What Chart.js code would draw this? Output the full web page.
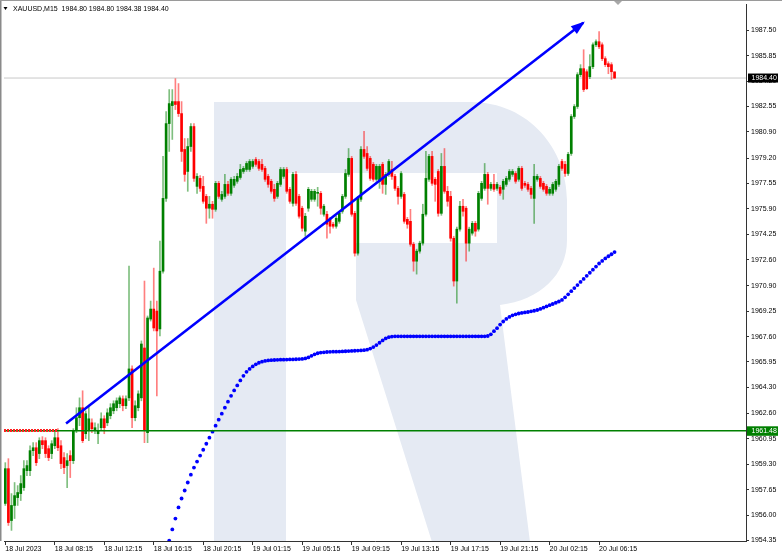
<!DOCTYPE html>
<html><head><meta charset="utf-8">
<script src="https://cdn.jsdelivr.net/npm/chart.js@4/dist/chart.umd.min.js"></script>
<style>html,body{margin:0;padding:0;background:#fff;overflow:hidden}#wrap{width:782px;height:558px;position:relative}canvas{display:block}</style>
</head><body><div id="wrap"><canvas id="c" width="782" height="558" style="width:782px;height:558px"></canvas></div>
<script>
// ---- data ----
const titleText = "XAUUSD,M15  1984.80 1984.80 1984.38 1984.40";
const xTickBars = [0,16,32,48,64,80,96,112,128,144,160,176,192];
const xTickLabels = ["18 Jul 2023","18 Jul 08:15","18 Jul 12:15","18 Jul 16:15","18 Jul 20:15","19 Jul 01:15","19 Jul 05:15","19 Jul 09:15","19 Jul 13:15","19 Jul 17:15","19 Jul 21:15","20 Jul 02:15","20 Jul 06:15"];
const yTicks = [1987.50,1985.85,1984.20,1982.55,1980.90,1979.20,1977.55,1975.90,1974.25,1972.60,1970.90,1969.25,1967.60,1965.95,1964.30,1962.60,1960.95,1959.30,1957.65,1956.00,1954.35];

const opens = [1956.76,1959.02,1955.65,1956.63,1957.14,1957.40,1957.79,1958.89,1958.89,1960.19,1960.38,1960.00,1960.84,1960.84,1960.32,1960.00,1960.51,1961.03,1960.51,1959.74,1959.22,1959.87,1959.54,1961.49,1962.33,1962.98,1961.29,1961.49,1962.00,1961.49,1961.29,1961.68,1962.26,1962.00,1962.46,1962.78,1962.98,1963.24,1963.56,1963.11,1963.62,1965.50,1962.33,1962.98,1963.62,1966.86,1961.36,1968.74,1969.39,1969.26,1968.10,1971.85,1976.58,1981.44,1982.61,1982.87,1982.87,1982.09,1979.76,1978.33,1979.95,1981.25,1977.36,1977.88,1977.36,1976.71,1975.94,1976.20,1975.87,1977.56,1976.52,1976.71,1977.49,1976.91,1977.43,1977.69,1977.94,1978.33,1978.46,1978.46,1978.66,1979.11,1978.98,1978.79,1978.53,1978.01,1977.69,1977.17,1976.71,1977.49,1978.01,1978.46,1977.17,1976.26,1978.14,1976.71,1975.94,1974.45,1975.94,1976.52,1976.52,1976.91,1976.91,1975.55,1975.55,1975.22,1974.90,1974.77,1975.09,1975.74,1976.71,1978.14,1979.18,1975.61,1973.02,1976.52,1979.76,1979.50,1979.18,1978.79,1977.82,1977.69,1978.79,1977.49,1978.14,1978.46,1978.01,1977.23,1976.71,1976.84,1975.22,1975.09,1973.60,1972.50,1973.15,1973.67,1975.55,1977.82,1979.31,1977.82,1978.33,1975.61,1978.66,1977.04,1976.71,1973.99,1971.21,1974.58,1976.07,1975.94,1973.67,1974.32,1974.96,1974.58,1976.58,1977.23,1978.14,1977.23,1977.49,1977.23,1977.30,1977.17,1977.49,1977.82,1978.14,1978.20,1977.82,1978.53,1977.56,1977.49,1977.23,1976.58,1977.82,1977.88,1977.56,1977.36,1976.91,1976.91,1977.17,1977.49,1978.98,1978.79,1978.20,1979.50,1981.90,1982.55,1984.62,1985.01,1984.81,1984.49,1985.14,1986.56,1986.76,1986.56,1985.66,1985.33,1985.27,1984.80];
const highs = [1959.41,1959.67,1957.40,1958.12,1957.92,1958.57,1959.54,1959.54,1960.51,1960.71,1960.71,1961.03,1961.10,1961.03,1960.51,1960.84,1961.49,1961.62,1960.84,1960.06,1960.00,1960.19,1961.62,1962.98,1963.62,1964.08,1962.78,1963.11,1962.26,1962.00,1961.94,1962.65,1962.46,1962.91,1963.24,1963.43,1963.62,1963.75,1963.75,1963.75,1972.18,1965.70,1963.43,1964.08,1967.32,1971.21,1968.94,1969.91,1972.05,1969.91,1973.80,1979.31,1982.22,1983.65,1983.65,1984.36,1984.04,1982.87,1980.47,1980.47,1981.44,1981.44,1978.20,1978.07,1978.01,1976.84,1976.71,1976.39,1977.69,1977.69,1977.04,1978.14,1977.69,1977.94,1978.01,1978.20,1978.79,1978.66,1978.98,1979.11,1979.11,1979.24,1979.11,1979.11,1978.66,1978.14,1977.82,1977.49,1977.69,1978.59,1978.59,1978.59,1977.30,1978.27,1978.33,1976.84,1976.07,1975.61,1977.30,1977.17,1977.17,1977.30,1977.04,1976.20,1975.74,1975.35,1975.03,1975.42,1975.74,1976.84,1978.46,1979.82,1979.31,1975.74,1976.71,1979.95,1980.93,1979.95,1979.31,1978.92,1978.79,1978.79,1978.92,1978.27,1979.11,1978.98,1978.14,1977.36,1978.33,1976.97,1975.35,1975.87,1973.73,1973.28,1973.80,1976.20,1979.63,1979.44,1979.63,1977.94,1978.46,1979.50,1979.82,1977.36,1977.04,1974.12,1974.71,1976.39,1976.52,1976.07,1974.71,1975.09,1975.09,1977.04,1977.69,1978.85,1978.27,1977.62,1978.14,1977.62,1977.43,1977.82,1978.01,1978.46,1978.46,1978.33,1978.66,1978.66,1977.69,1977.62,1977.36,1978.79,1978.14,1978.01,1977.69,1977.49,1977.30,1977.62,1977.82,1978.79,1979.11,1978.98,1979.57,1982.03,1982.68,1984.75,1985.27,1986.24,1984.94,1985.92,1986.69,1986.89,1987.41,1986.69,1985.79,1985.46,1985.40,1984.80];
const lows = [1956.63,1955.33,1955.01,1955.78,1956.63,1956.95,1957.60,1958.57,1958.57,1959.87,1959.22,1959.67,1960.32,1959.74,1959.54,1959.67,1960.32,1960.19,1959.02,1958.70,1957.79,1958.44,1959.35,1961.36,1961.81,1960.71,1960.97,1960.84,1961.36,1961.29,1960.64,1961.49,1961.29,1961.81,1962.26,1962.59,1962.78,1962.98,1962.78,1962.91,1963.43,1961.68,1962.13,1962.78,1963.43,1960.71,1960.71,1968.61,1967.97,1963.75,1967.64,1971.72,1976.39,1979.63,1980.41,1982.35,1981.90,1978.98,1977.69,1977.04,1979.63,1977.69,1976.91,1977.04,1976.26,1974.96,1975.29,1975.29,1975.74,1976.58,1976.39,1976.58,1976.78,1976.78,1977.30,1977.56,1977.82,1978.20,1978.33,1978.33,1978.53,1978.66,1978.40,1978.33,1977.69,1977.30,1976.91,1976.39,1976.58,1977.36,1977.88,1976.91,1976.26,1976.07,1976.13,1975.29,1974.45,1974.12,1975.74,1976.39,1976.39,1976.07,1975.55,1975.42,1973.99,1974.32,1974.64,1974.64,1974.96,1975.61,1976.58,1978.01,1975.42,1972.83,1972.89,1976.39,1979.18,1978.40,1977.75,1977.69,1977.69,1977.23,1976.91,1976.84,1978.01,1977.82,1977.10,1976.20,1976.58,1974.96,1974.64,1973.47,1971.85,1971.66,1973.02,1973.54,1975.42,1977.69,1977.43,1976.39,1975.42,1975.48,1976.91,1976.07,1973.80,1970.88,1969.78,1974.45,1975.42,1972.50,1973.15,1974.19,1974.12,1974.45,1976.45,1977.10,1976.20,1977.10,1977.04,1977.10,1976.78,1976.52,1977.36,1977.69,1978.01,1977.56,1977.69,1977.10,1977.30,1977.04,1976.58,1974.96,1977.69,1977.23,1977.04,1976.78,1976.78,1976.78,1977.04,1977.36,1978.40,1978.01,1978.07,1979.37,1981.77,1982.42,1984.49,1983.52,1983.65,1984.36,1985.01,1986.43,1986.30,1985.53,1985.14,1984.68,1984.30,1984.38];
const closes = [1959.02,1955.52,1956.63,1957.27,1957.47,1958.05,1959.02,1959.22,1960.19,1960.38,1959.41,1960.84,1960.58,1960.00,1959.74,1960.64,1961.03,1960.38,1959.35,1959.09,1959.54,1959.54,1961.49,1962.33,1962.98,1960.84,1962.59,1962.26,1961.62,1961.68,1961.49,1962.26,1961.68,1962.65,1962.98,1963.24,1963.43,1963.62,1963.11,1963.56,1965.50,1962.33,1963.11,1963.88,1967.12,1961.49,1968.81,1969.39,1968.16,1967.97,1971.85,1976.58,1981.44,1982.74,1982.87,1982.68,1982.09,1979.63,1978.14,1979.95,1981.25,1977.88,1978.01,1977.23,1976.39,1975.94,1976.20,1975.87,1977.56,1976.71,1976.84,1977.49,1976.91,1977.82,1977.82,1978.01,1978.46,1978.53,1978.85,1978.98,1978.98,1978.79,1978.53,1978.46,1977.82,1977.49,1977.04,1976.58,1977.56,1978.46,1978.46,1977.04,1976.39,1978.14,1976.26,1975.42,1974.64,1975.42,1977.17,1977.04,1977.04,1976.91,1975.94,1976.07,1974.90,1974.77,1974.77,1975.29,1975.61,1976.71,1978.20,1979.18,1975.55,1973.02,1976.58,1979.76,1979.31,1978.53,1977.88,1977.82,1978.66,1978.66,1977.49,1978.14,1978.98,1978.01,1977.23,1976.71,1978.20,1975.09,1974.90,1973.60,1972.50,1973.15,1973.67,1975.55,1977.88,1979.31,1977.56,1977.49,1975.61,1978.66,1977.04,1976.39,1973.99,1971.21,1974.58,1976.07,1975.74,1973.67,1974.58,1974.96,1974.45,1976.91,1977.56,1978.14,1977.23,1977.49,1977.17,1977.49,1976.91,1977.69,1977.88,1978.33,1978.33,1977.69,1978.53,1977.23,1977.43,1977.17,1976.84,1978.01,1978.01,1977.36,1977.17,1976.91,1977.17,1977.49,1977.69,1978.66,1978.53,1978.20,1979.44,1981.90,1982.55,1984.62,1985.01,1983.65,1983.71,1985.14,1986.56,1986.76,1986.43,1985.66,1985.27,1985.14,1984.81,1984.40];

const maStart = 53;
const maValues = [1954.35,1955.07,1955.78,1956.50,1957.08,1957.60,1958.12,1958.63,1959.09,1959.48,1959.87,1960.25,1960.64,1961.03,1961.42,1961.81,1962.20,1962.59,1962.98,1963.37,1963.75,1964.10,1964.43,1964.75,1965.05,1965.31,1965.50,1965.66,1965.80,1965.90,1965.97,1966.02,1966.05,
1966.07,1966.08,1966.09,1966.10,1966.10,1966.11,1966.12,1966.12,1966.13,1966.14,1966.15,1966.18,1966.25,1966.35,
1966.45,1966.52,1966.56,1966.58,1966.60,1966.61,1966.62,1966.62,1966.63,1966.64,1966.65,1966.66,1966.67,1966.68,1966.69,1966.70,1966.72,1966.75,
1966.82,1966.92,1967.05,1967.20,1967.35,1967.48,1967.56,1967.60,
1967.62,1967.62,1967.62,1967.62,1967.62,1967.62,1967.62,1967.62,1967.62,1967.62,1967.62,1967.62,1967.62,1967.62,1967.62,1967.62,1967.62,1967.62,1967.62,1967.62,1967.62,1967.62,1967.62,1967.62,1967.62,1967.62,1967.62,1967.62,1967.62,1967.62,1967.64,
1967.75,1967.95,1968.15,1968.38,1968.58,1968.75,1968.88,
1968.98,1969.05,1969.10,1969.14,1969.17,1969.20,1969.24,1969.28,1969.33,
1969.40,1969.48,1969.56,1969.64,1969.72,1969.80,1969.88,1969.98,
1970.15,1970.35,1970.55,1970.75,1970.95,1971.15,1971.35,1971.55,1971.75,1971.95,1972.15,1972.35,1972.52,1972.68,1972.82,1972.95,1973.09];

const trendX = [19.65, 186.9];
const trendY = [1961.96, 1987.99];
const supportLevel = 1961.48;
const bidLevel = 1984.40;
const redSegX = [-0.42, 17];
const redSegY = 1961.50;

// ---- build ----
const N = opens.length;
const up = opens.map((o,i)=>closes[i] >= o);
const wickData = opens.map((o,i)=>({x:i, y:[lows[i], highs[i]]}));
const bodyData = opens.map((o,i)=>({x:i, y:[o, closes[i]]}));
const maData = maValues.map((v,k)=>({x:maStart+k, y:v}));
const X_MIN = -0.42, X_MAX = 239.5;
const Y_MIN = 1954.32, Y_MAX = 1989.21;
const FONT = {family:"'Liberation Sans', Arial, sans-serif", size:7};

const bgPlugin = {
  id:'bg',
  beforeDatasetsDraw(chart){
    const ctx = chart.ctx; const a = chart.chartArea;
    ctx.save();
    ctx.beginPath(); ctx.rect(a.left,a.top,a.right-a.left,a.bottom-a.top); ctx.clip();
    ctx.fillStyle = '#e5eaf3';
    ctx.fillRect(214,102,72,440);
    ctx.beginPath();
    ctx.moveTo(286,102);
    ctx.lineTo(470,102);
    ctx.bezierCurveTo(530,102,567,150,567,200);
    ctx.lineTo(567,240);
    ctx.bezierCurveTo(567,275,540,300,500,305);
    ctx.lineTo(530,542);
    ctx.lineTo(432,542);
    ctx.lineTo(356,300);
    ctx.lineTo(356,243);
    ctx.lineTo(497,243);
    ctx.lineTo(497,173);
    ctx.lineTo(286,173);
    ctx.closePath();
    ctx.fill();
    ctx.restore();
  },
  afterDatasetsDraw(chart){
    const ctx = chart.ctx; const xs = chart.scales.x, ys = chart.scales.y;
    const x1 = xs.getPixelForValue(trendX[0]), y1 = ys.getPixelForValue(trendY[0]);
    const x2 = xs.getPixelForValue(trendX[1]), y2 = ys.getPixelForValue(trendY[1]);
    const ang = Math.atan2(y2-y1, x2-x1);
    ctx.save();
    ctx.fillStyle = '#0000ff';
    ctx.beginPath();
    ctx.moveTo(x2 + Math.cos(ang)*2, y2 + Math.sin(ang)*2);
    ctx.lineTo(x2 - Math.cos(ang)*12 + Math.sin(ang)*5, y2 - Math.sin(ang)*12 - Math.cos(ang)*5);
    ctx.lineTo(x2 - Math.cos(ang)*12 - Math.sin(ang)*5, y2 - Math.sin(ang)*12 + Math.cos(ang)*5);
    ctx.closePath(); ctx.fill();
    ctx.restore();
  },
  afterDraw(chart){
    const ctx = chart.ctx; const a = chart.chartArea; const ys = chart.scales.y;
    ctx.save();
    ctx.strokeStyle = '#8a8a8a'; ctx.lineWidth = 1.5;
    ctx.beginPath(); ctx.moveTo(0.75,0); ctx.lineTo(0.75,a.bottom); ctx.stroke();
    ctx.strokeStyle = '#9a9a9a'; ctx.lineWidth = 1;
    ctx.beginPath(); ctx.moveTo(0,0.5); ctx.lineTo(782,0.5); ctx.stroke();
    ctx.fillStyle = '#a8a8a8';
    ctx.beginPath(); ctx.moveTo(614,1); ctx.lineTo(622,1); ctx.lineTo(618,5); ctx.closePath(); ctx.fill();
    ctx.font = "7px 'Liberation Sans', Arial, sans-serif";
    ctx.textBaseline = 'middle'; ctx.textAlign = 'left';
    const yb = ys.getPixelForValue(bidLevel);
    ctx.fillStyle = '#000'; ctx.fillRect(748, yb-4.5, 30, 9);
    ctx.fillStyle = '#fff'; ctx.fillText(bidLevel.toFixed(2), 751.5, yb);
    const yg = ys.getPixelForValue(supportLevel);
    ctx.fillStyle = '#008000'; ctx.fillRect(747, yg-4.5, 31, 9.5);
    ctx.fillStyle = '#fff'; ctx.fillText(supportLevel.toFixed(2), 751.5, yg);
    ctx.fillStyle = '#000';
    ctx.beginPath(); ctx.moveTo(3.5,7); ctx.lineTo(7.5,7); ctx.lineTo(5.5,10); ctx.closePath(); ctx.fill();
    ctx.fillText(titleText, 13, 9);
    ctx.restore();
  }
};

new Chart(document.getElementById('c'), {
  type:'bar',
  data:{datasets:[
    {type:'line', data:[{x:X_MIN,y:bidLevel},{x:X_MAX,y:bidLevel}], borderColor:'#c8c8c8', borderWidth:1, pointRadius:0, order:9},
    {type:'bar', data:wickData, backgroundColor:up.map(u=>u?'rgba(0,128,0,0.5)':'rgba(255,0,0,0.5)'), barThickness:1, grouped:false, borderWidth:0, order:8},
    {type:'bar', data:bodyData, backgroundColor:up.map(u=>u?'#008000':'#ff0000'), barThickness:2, grouped:false, minBarLength:1, borderWidth:0, order:7},
    {type:'line', data:maData, showLine:false, pointRadius:1.9, pointBackgroundColor:'#0000ff', pointBorderWidth:0, order:6},
    {type:'line', data:[{x:trendX[0],y:trendY[0]},{x:trendX[1],y:trendY[1]}], borderColor:'#0000ff', borderWidth:2.6, pointRadius:0, order:5},
    {type:'line', data:[{x:X_MIN,y:supportLevel},{x:X_MAX,y:supportLevel}], borderColor:'#008000', borderWidth:1.6, pointRadius:0, order:4},
    {type:'line', data:[{x:redSegX[0],y:redSegY},{x:redSegX[1],y:redSegY}], borderColor:'#ff2020', borderWidth:3, borderDash:[2,1], pointRadius:0, order:3}
  ]},
  options:{
    responsive:false, animation:false, devicePixelRatio:1,
    layout:{padding:{left:1, top:1, right:0, bottom:0}},
    plugins:{legend:{display:false}, tooltip:{enabled:false}, title:{display:false}},
    scales:{
      x:{type:'linear', min:X_MIN, max:X_MAX, offset:false,
        grid:{display:true, drawOnChartArea:false, offset:false, tickLength:4, color:'#333', lineWidth:1},
        border:{display:true, color:'#333', width:1},
        afterBuildTicks:(s)=>{ s.ticks = xTickBars.map(v=>({value:v})); },
        afterFit:(s)=>{ s.height = 17; s.paddingLeft = 0; s.paddingRight = 0; },
        ticks:{autoSkip:false, maxRotation:0, minRotation:0, align:'start', padding:0, color:'#000', font:FONT,
          callback:(v)=>{ const k = xTickBars.indexOf(v); return k>=0 ? xTickLabels[k] : ''; }}
      },
      y:{type:'linear', position:'right', min:Y_MIN, max:Y_MAX,
        grid:{display:true, drawOnChartArea:false, tickLength:3, color:'#333', lineWidth:1},
        border:{display:true, color:'#333', width:1},
        afterBuildTicks:(s)=>{ s.ticks = yTicks.map(v=>({value:v})); },
        afterFit:(s)=>{ s.width = 36; s.paddingTop = 0; s.paddingBottom = 0; },
        ticks:{autoSkip:false, padding:2, color:'#000', font:FONT, callback:(v)=>Number(v).toFixed(2)}
      }
    }
  },
  plugins:[bgPlugin]
});
</script></body></html>
